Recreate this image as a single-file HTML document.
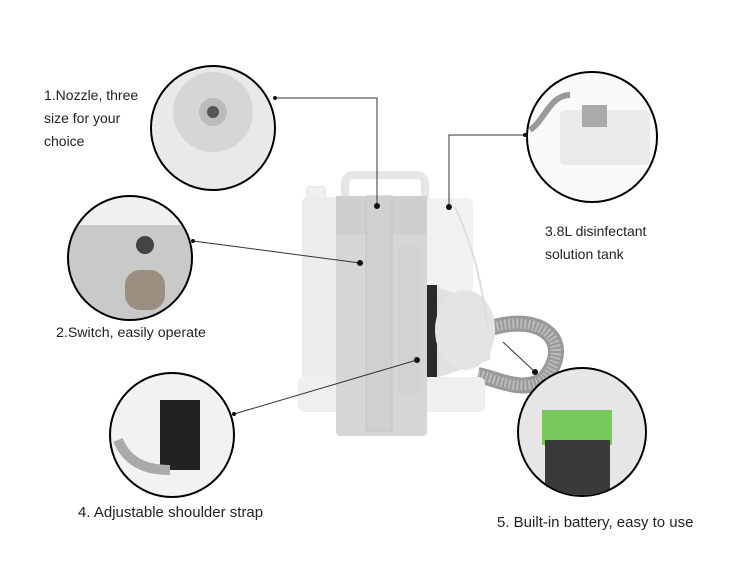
<!DOCTYPE html>
<html><head><meta charset="utf-8"><style>
body{margin:0;background:#fff;width:750px;height:580px;overflow:hidden;position:relative;font-family:"Liberation Sans",sans-serif;}
.t{position:absolute;font-size:14px;color:#222;line-height:23px;white-space:nowrap}
</style></head><body>
<svg width="750" height="580" style="position:absolute;left:0;top:0">
<defs>
<clipPath id="c1"><circle cx="213" cy="128" r="61"/></clipPath>
<clipPath id="c2"><circle cx="130" cy="258" r="61"/></clipPath>
<clipPath id="c3"><circle cx="592" cy="137" r="64"/></clipPath>
<clipPath id="c4"><circle cx="172" cy="435" r="61"/></clipPath>
<clipPath id="c5"><circle cx="582" cy="432" r="63"/></clipPath>
</defs>
<rect x="345" y="175" width="80" height="28" rx="8" fill="none" stroke="#e6e6e6" stroke-width="8"/>
<rect x="307" y="187" width="18" height="12" rx="2" fill="#f0f0f0" stroke="#ddd"/>
<rect x="302" y="197" width="40" height="215" rx="6" fill="#ececec"/>
<rect x="425" y="198" width="48" height="95" rx="6" fill="#f1f1f1"/>
<path d="M425 285 C450 290 480 300 490 320 L490 360 L430 380 Z" fill="#e0e0e0"/>
<path d="M485 330 C540 310 575 340 545 378 C525 395 495 378 478 375" fill="none" stroke="#999" stroke-width="16"/>
<path d="M485 330 C540 310 575 340 545 378 C525 395 495 378 478 375" fill="none" stroke="#bbb" stroke-width="10" stroke-dasharray="2 2"/>
<rect x="425" y="285" width="12" height="95" fill="#2a2a2a"/>
<ellipse cx="465" cy="330" rx="30" ry="40" fill="#e4e4e4"/>
<rect x="298" y="377" width="187" height="35" rx="6" fill="#efefef"/>
<rect x="336" y="196" width="91" height="240" rx="4" fill="#d6d6d6"/>
<rect x="336" y="196" width="91" height="38" fill="#cfcfcf"/>
<rect x="366" y="196" width="26" height="235" fill="#d0d0d0" stroke="#c4c4c4"/>
<rect x="398" y="245" width="22" height="150" fill="#d2d2d2"/>
<path d="M455 207 C470 240 480 270 488 330" fill="none" stroke="#ddd" stroke-width="2"/>
<g clip-path="url(#c1)"><rect x="150" y="65" width="130" height="130" fill="#e9e9e9"/><circle cx="213" cy="112" r="40" fill="#d6d6d6"/><circle cx="213" cy="112" r="14" fill="#bbb"/><circle cx="213" cy="112" r="6" fill="#555"/></g>
<circle cx="213" cy="128" r="62" fill="none" stroke="#000" stroke-width="2"/>
<g clip-path="url(#c2)"><rect x="65" y="195" width="130" height="130" fill="#c9c9c9"/><rect x="65" y="195" width="130" height="30" fill="#f0f0f0"/><circle cx="145" cy="245" r="9" fill="#444"/><rect x="125" y="270" width="40" height="40" rx="15" fill="#9a8f80"/></g>
<circle cx="130" cy="258" r="62" fill="none" stroke="#000" stroke-width="2"/>
<g clip-path="url(#c3)"><rect x="525" y="72" width="135" height="135" fill="#fafafa"/><rect x="560" y="110" width="90" height="55" rx="5" fill="#ebebeb"/><rect x="582" y="105" width="25" height="22" fill="#aaa"/><path d="M530 130 C545 120 550 95 570 95" fill="none" stroke="#999" stroke-width="6"/></g>
<circle cx="592" cy="137" r="65" fill="none" stroke="#000" stroke-width="2"/>
<g clip-path="url(#c4)"><rect x="108" y="372" width="130" height="130" fill="#f2f2f2"/><rect x="160" y="400" width="40" height="70" fill="#222"/><path d="M118 440 C130 470 160 470 170 470" stroke="#aaa" stroke-width="10" fill="none"/></g>
<circle cx="172" cy="435" r="62" fill="none" stroke="#000" stroke-width="2"/>
<g clip-path="url(#c5)"><rect x="518" y="368" width="130" height="130" fill="#e6e6e6"/><rect x="542" y="410" width="70" height="35" fill="#76c95a"/><rect x="545" y="440" width="65" height="60" fill="#3a3a3a"/></g>
<circle cx="582" cy="432" r="64" fill="none" stroke="#000" stroke-width="2"/>
<g stroke="#333" stroke-width="1" fill="none">
<polyline points="275,98 377,98 377,206"/>
<polyline points="525,135 449,135 449,207"/>
<line x1="193" y1="241" x2="360" y2="263"/>
<line x1="234" y1="414" x2="417" y2="360"/>
<line x1="503" y1="342" x2="535" y2="372"/>
</g>
<g fill="#111"><circle cx="377" cy="206" r="3"/><circle cx="449" cy="207" r="3"/><circle cx="360" cy="263" r="3"/><circle cx="417" cy="360" r="3"/><circle cx="535" cy="372" r="3"/><circle cx="275" cy="98" r="2"/><circle cx="525" cy="135" r="2"/><circle cx="193" cy="241" r="2"/><circle cx="234" cy="414" r="2"/></g>
</svg>
<div class="t" style="left:44px;top:84px">1.Nozzle, three<br>size for your<br>choice</div>
<div class="t" style="left:56px;top:322px;font-size:14.2px">2.Switch, easily operate</div>
<div class="t" style="left:545px;top:220px">3.8L disinfectant<br>solution tank</div>
<div class="t" style="left:78px;top:501px;font-size:15px">4. Adjustable shoulder strap</div>
<div class="t" style="left:497px;top:511px;font-size:15px">5. Built-in battery, easy to use</div>
</body></html>
